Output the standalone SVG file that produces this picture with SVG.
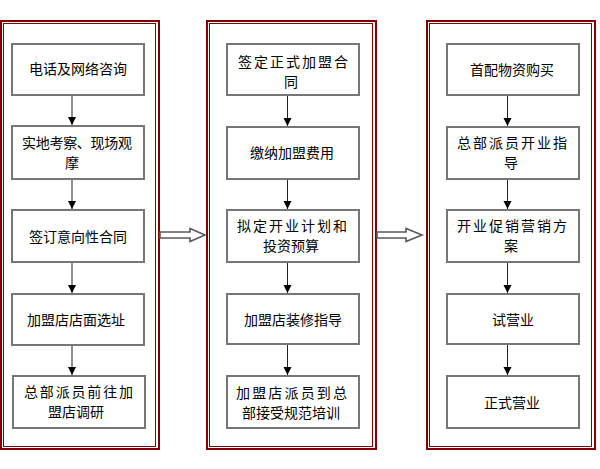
<svg xmlns="http://www.w3.org/2000/svg" width="600" height="469" viewBox="0 0 600 469">
<style>
.fo{fill:none;stroke:#800000;stroke-width:2}
.fi{fill:none;stroke:#800000;stroke-width:1}
.box{fill:#fff;stroke:#767676;stroke-width:2}
.t{font-family:"Noto Sans CJK SC","Noto Sans CJK JP",sans-serif;font-size:14px;fill:#000;text-anchor:middle}
.tl{font-family:"Noto Sans CJK SC","Noto Sans CJK JP",sans-serif;font-size:14px;fill:#000}
.ln{stroke:#222;stroke-width:1;fill:none;marker-end:url(#ah)}
.big{fill:#fff;stroke:#5a5a5a;stroke-width:1.6}
</style>
<defs>
<marker id="ah" markerUnits="userSpaceOnUse" markerWidth="10" markerHeight="10" viewBox="0 0 10 10" refX="8" refY="5" orient="auto">
<path d="M0,1 L8,5 L0,9 Z" fill="#000"/>
</marker>
</defs>
<rect width="600" height="469" fill="#fff"/>
<g id="frames">
<rect class="fo" x="1" y="21" width="158" height="428"/>
<rect class="fi" x="3.5" y="23.5" width="152" height="423"/>
<rect class="fo" x="207" y="21" width="169" height="428"/>
<rect class="fi" x="209.5" y="23.5" width="163" height="423"/>
<rect class="fo" x="427" y="21" width="168" height="428"/>
<rect class="fi" x="429.5" y="23.5" width="162" height="423"/>
</g>
<g id="connectors">
<line class="ln" x1="72" y1="96" x2="72" y2="125"/>
<line class="ln" x1="72" y1="180" x2="72" y2="209"/>
<line class="ln" x1="72" y1="263" x2="72" y2="293"/>
<line class="ln" x1="72" y1="346" x2="72" y2="375"/>
<line class="ln" x1="287.5" y1="96" x2="287.5" y2="126"/>
<line class="ln" x1="287.5" y1="180" x2="287.5" y2="209"/>
<line class="ln" x1="287.5" y1="263" x2="287.5" y2="293"/>
<line class="ln" x1="287.5" y1="345" x2="287.5" y2="375"/>
<line class="ln" x1="507.5" y1="96" x2="507.5" y2="126"/>
<line class="ln" x1="507.5" y1="180" x2="507.5" y2="209"/>
<line class="ln" x1="507.5" y1="263" x2="507.5" y2="293"/>
<line class="ln" x1="507.5" y1="345" x2="507.5" y2="375"/>
<path class="big" d="M160,232 L190,232 L190,228.5 L205,235 L190,241.5 L190,238 L160,238 Z"/>
<path class="big" d="M377,232 L406,232 L406,228.5 L422,235 L406,241.5 L406,238 L377,238 Z"/>
</g>
<g id="n1"><rect class="box" x="12" y="44" width="132" height="51"/><text class="t" x="78" y="74">电话及网络咨询</text></g>
<g id="n2"><rect class="box" x="12" y="126" width="132" height="53"/><text class="tl" x="22" y="148" textLength="110" lengthAdjust="spacing">实地考察、现场观</text><text class="t" x="72" y="168">摩</text></g>
<g id="n3"><rect class="box" x="12" y="210" width="132" height="52"/><text class="t" x="78" y="242">签订意向性合同</text></g>
<g id="n4"><rect class="box" x="12" y="294" width="132" height="51"/><text class="t" x="76" y="325">加盟店店面选址</text></g>
<g id="n5"><rect class="box" x="13" y="376" width="132" height="52"/><text class="tl" x="24" y="397" textLength="109" lengthAdjust="spacing">总部派员前往加</text><text class="t" x="76" y="417">盟店调研</text></g>

<g id="n6"><rect class="box" x="227" y="44" width="132" height="51"/><text class="tl" x="238" y="67" textLength="110" lengthAdjust="spacing">签定正式加盟合</text><text class="t" x="291" y="87">同</text></g>
<g id="n7"><rect class="box" x="227" y="127" width="132" height="52"/><text class="t" x="292" y="158">缴纳加盟费用</text></g>
<g id="n8"><rect class="box" x="227" y="210" width="132" height="52"/><text class="tl" x="237" y="231" textLength="110" lengthAdjust="spacing">拟定开业计划和</text><text class="t" x="291" y="251">投资预算</text></g>
<g id="n9"><rect class="box" x="227" y="294" width="132" height="50"/><text class="t" x="293" y="325">加盟店装修指导</text></g>
<g id="n10"><rect class="box" x="227" y="376" width="132" height="52"/><text class="tl" x="236" y="398" textLength="111" lengthAdjust="spacing">加盟店派员到总</text><text class="t" x="291" y="418">部接受规范培训</text></g>

<g id="n11"><rect class="box" x="447" y="44" width="132" height="51"/><text class="t" x="512" y="75">首配物资购买</text></g>
<g id="n12"><rect class="box" x="447" y="127" width="132" height="52"/><text class="tl" x="457" y="148" textLength="110" lengthAdjust="spacing">总部派员开业指</text><text class="t" x="511" y="168">导</text></g>
<g id="n13"><rect class="box" x="447" y="210" width="132" height="52"/><text class="tl" x="457" y="231" textLength="110" lengthAdjust="spacing">开业促销营销方</text><text class="t" x="511" y="251">案</text></g>
<g id="n14"><rect class="box" x="447" y="294" width="132" height="50"/><text class="t" x="513" y="325">试营业</text></g>
<g id="n15"><rect class="box" x="447" y="376" width="132" height="52"/><text class="t" x="512" y="408">正式营业</text></g>
</svg>
